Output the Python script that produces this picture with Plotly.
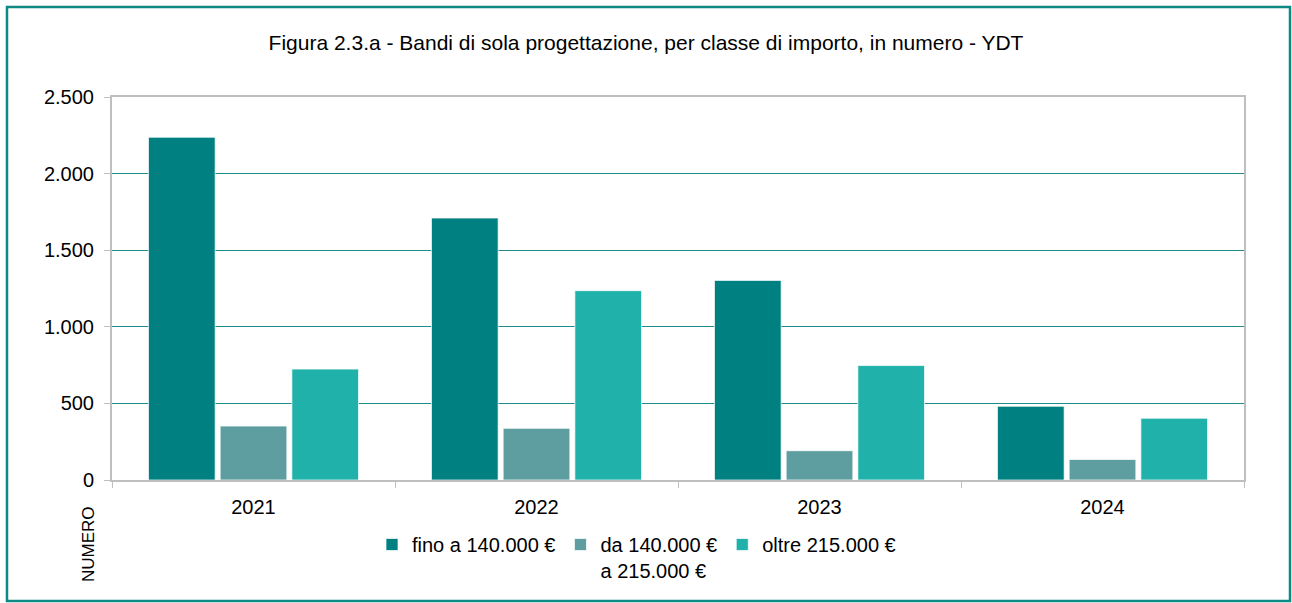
import plotly.graph_objects as go

years = ["2021", "2022", "2023", "2024"]
series_names = ["fino a 140.000 €", "da 140.000 €<br>a 215.000 €", "oltre 215.000 €"]
fino = [2237, 1710, 1303, 481]
da = [352, 337, 191, 134]
oltre = [724, 1236, 747, 403]
colors = ["#008080", "#5F9EA0", "#20B2AA"]
y_ticks = [0, 500, 1000, 1500, 2000, 2500]

W, H = 1292, 603
ML, MR, MT, MB = 112, 48, 97, 123
PW, PH = W - ML - MR, H - MT - MB

def px(x):
    return (x - ML) / PW

def py(y):
    return (H - MB - y) / PH

FONT = "Liberation Sans, Arial, sans-serif"

fig = go.Figure()
for name, vals, col in zip(series_names, [fino, da, oltre], colors):
    fig.add_trace(go.Bar(
        x=years, y=vals, name=name,
        marker=dict(color=col, line=dict(color="rgba(255,255,255,0.7)", width=1)),
    ))

fig.update_layout(
    width=W, height=H,
    margin=dict(l=ML, r=MR, t=MT, b=MB, autoexpand=False),
    paper_bgcolor="white", plot_bgcolor="white",
    separators=",.",
    barmode="group", bargap=0.24, bargroupgap=0.07,
    font=dict(family=FONT, size=20, color="#000000"),
    title=dict(
        text="Figura 2.3.a - Bandi di sola progettazione, per classe di importo, in numero - YDT",
        x=0.5, xanchor="center", y=1 - 43 / H, yanchor="middle",
        font=dict(family=FONT, size=21, color="#000000"),
    ),
    xaxis=dict(
        type="category", tickson="boundaries", ticks="outside", ticklen=6,
        tickcolor="#BFBFBF", showline=True, linecolor="#BFBFBF", linewidth=2,
        mirror=True, showgrid=False, tickfont=dict(size=20, family=FONT),
        ticklabelstandoff=8, automargin=False,
    ),
    yaxis=dict(
        range=[0, 2500], tickvals=y_ticks, tickformat=",d",
        ticks="outside", ticklen=6, tickcolor="#BFBFBF",
        showline=True, linecolor="#BFBFBF", linewidth=2, mirror=True,
        showgrid=True, gridcolor="#1E8C8C", gridwidth=1, zeroline=False,
        tickfont=dict(size=20, family=FONT), ticklabelstandoff=6, automargin=False,
    ),
    legend=dict(
        orientation="h", x=px(372), xanchor="left", y=py(525), yanchor="top",
        font=dict(size=20, family=FONT), itemwidth=30, tracegroupgap=0,
        bgcolor="rgba(0,0,0,0)", valign="top",
    ),
    showlegend=True,
)

fig.add_annotation(
    text="NUMERO", textangle=-90, xref="paper", yref="paper",
    x=px(88), y=py(544), xanchor="center", yanchor="middle", showarrow=False,
    font=dict(size=17, family=FONT, color="#000000"),
)

fig.add_shape(
    type="rect", xref="paper", yref="paper",
    x0=px(7), x1=px(1290), y0=py(601), y1=py(7),
    line=dict(color="#0E8A84", width=2.5), fillcolor="rgba(0,0,0,0)", layer="below",
)

fig.write_html(
    "out.html",
    config={"displayModeBar": False},
    post_script="document.body.style.margin='0px';",
)
